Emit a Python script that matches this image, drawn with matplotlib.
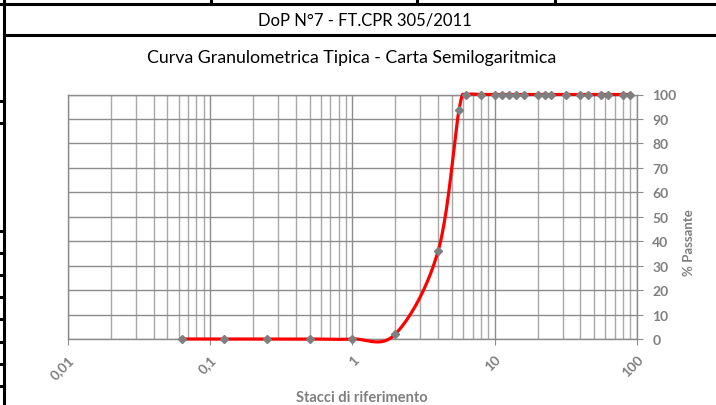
import matplotlib
matplotlib.use('Agg')
import matplotlib.pyplot as plt
from matplotlib.lines import Line2D
from matplotlib.ticker import FixedLocator, LogLocator, NullFormatter
import numpy as np

plt.rcParams['font.family'] = ['Lato', 'DejaVu Sans']

# sieve openings (mm) and % passing
stacci = [0.063, 0.125, 0.25, 0.5, 1, 2, 4, 5.6, 6.3, 8, 10, 11.2, 12.5, 14, 16,
          20, 22.4, 25, 31.5, 40, 45, 56, 63, 80, 90]
passante = [0, 0, 0, 0, 0, 2, 36, 93.5, 99.6, 100, 100, 100, 100, 100, 100,
            100, 100, 100, 100, 100, 100, 100, 100, 100, 100]
x_ticks = [0.01, 0.1, 1, 10, 100]
x_labels = ['0,01', '0,1', '1', '10', '100']
y_ticks = list(range(0, 101, 10))

titolo1 = 'DoP N°7 - FT.CPR 305/2011'
titolo2 = 'Curva Granulometrica Tipica - Carta Semilogaritmica'

GREY = '#7f7f7f'
W, H = 716, 406


def smooth(xs, ys, n=24):
    # catmull-rom in (log x, y), like excel's smoothed line
    lx = np.log10(xs)
    y = np.array(ys, dtype=float)
    px = np.concatenate([[2 * lx[0] - lx[1]], lx, [2 * lx[-1] - lx[-2]]])
    py = np.concatenate([[2 * y[0] - y[1]], y, [2 * y[-1] - y[-2]]])
    outx, outy = [], []
    t = np.linspace(0, 1, n)
    for i in range(1, len(px) - 2):
        p0, p1, p2, p3 = px[i - 1:i + 3]
        q0, q1, q2, q3 = py[i - 1:i + 3]
        m1x, m2x = (p2 - p0) / 2, (p3 - p1) / 2
        m1y, m2y = (q2 - q0) / 2, (q3 - q1) / 2
        h00 = 2 * t**3 - 3 * t**2 + 1
        h10 = t**3 - 2 * t**2 + t
        h01 = -2 * t**3 + 3 * t**2
        h11 = t**3 - t**2
        outx.append(h00 * p1 + h10 * m1x + h01 * p2 + h11 * m2x)
        outy.append(h00 * q1 + h10 * m1y + h01 * q2 + h11 * m2y)
    return 10 ** np.concatenate(outx), np.concatenate(outy)


fig = plt.figure(figsize=(W / 100, H / 100), dpi=100)
ax = fig.add_axes([68 / W, 1 - 340 / H, (637 - 68) / W, (340 - 95.5) / H])

ax.set_xscale('log')
ax.set_xlim(0.01, 100)
ax.set_ylim(0, 100)

sx, sy = smooth(stacci, passante)
ax.plot(sx, sy, color='red', lw=2.3, zorder=3, clip_on=False)
ax.plot(stacci, passante, ls='none', marker='D', ms=4.5, color=GREY,
        zorder=4, clip_on=False)

ax.xaxis.set_major_locator(FixedLocator(x_ticks))
ax.set_xticklabels(x_labels)
ax.xaxis.set_minor_locator(LogLocator(base=10, subs=np.arange(2, 10)))
ax.xaxis.set_minor_formatter(NullFormatter())
ax.set_yticks(y_ticks)

ax.grid(True, which='major', axis='x', color='#8c8c8c', lw=1.0)
ax.grid(True, which='minor', axis='x', color='#a8a8a8', lw=1.0)
ax.grid(True, which='major', axis='y', color='#8c8c8c', lw=1.0)
ax.set_axisbelow(True)

for s in ax.spines.values():
    s.set_color('#8c8c8c')
    s.set_linewidth(1.0)

ax.yaxis.tick_right()
ax.tick_params(axis='y', which='major', length=4, color='#8c8c8c', pad=7,
               labelsize=10, labelcolor=GREY)
ax.tick_params(axis='x', which='major', length=4, color='#8c8c8c', pad=6,
               labelsize=10, labelcolor=GREY)
ax.tick_params(axis='x', which='minor', length=0)
for lab in ax.get_yticklabels():
    lab.set_fontweight('bold')
for lab in ax.get_xticklabels():
    lab.set_fontweight('bold')
    lab.set_rotation(45)
    lab.set_ha('right')
    lab.set_va('top')
    lab.set_rotation_mode('anchor')

fig.text(362 / W, 1 - 398 / H, 'Stacci di riferimento', ha='center', va='center',
         fontsize=10.5, fontweight='bold', color=GREY)
fig.text(689 / W, 1 - 243 / H, '% Passante', ha='center', va='center',
         rotation=90, fontsize=9.5, fontweight='bold', color=GREY)

fig.text(365 / W, 1 - 20.5 / H, titolo1, ha='center', va='center', fontsize=12,
         color='black')
fig.text(352 / W, 1 - 58 / H, titolo2, ha='center', va='center', fontsize=12.8,
         color='black')

# table borders around the chart
def hline(y, x0, x1):
    fig.add_artist(Line2D([x0 / W, x1 / W], [1 - y / H, 1 - y / H], color='black', lw=2.2))


def vline(x, y0, y1):
    fig.add_artist(Line2D([x / W, x / W], [1 - y0 / H, 1 - y1 / H], color='black', lw=2.2))


vline(3.5, 0, H)
hline(4.7, 0, W)
hline(35.5, 3.5, W)
for xv in [211, 417, 555]:
    vline(xv, 0, 4.7)
for yv in [102, 124, 232, 254, 276, 298, 320, 342.5, 365, 387]:
    hline(yv, 0, 3.5)

fig.savefig('out.png', dpi=100, facecolor='white')
